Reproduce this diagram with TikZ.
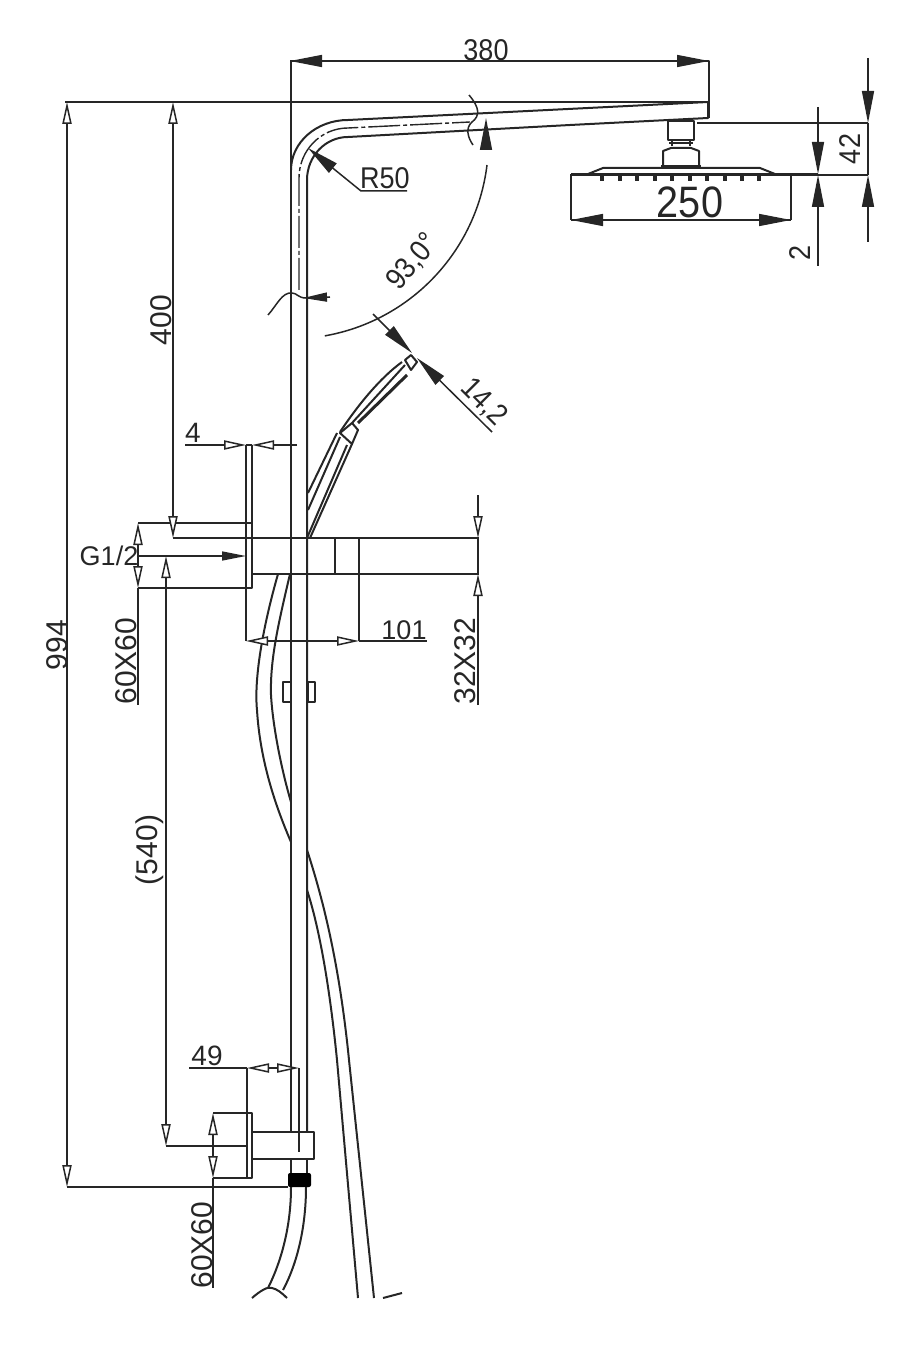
\documentclass[tikz,border=0pt]{standalone}
\usepackage{fontspec}
\setmainfont{Liberation Sans}
\newfontfamily\isofont[FakeStretch=0.9]{Liberation Sans}
\usetikzlibrary{arrows.meta}
\tikzset{
	x=0.5pt, % un pixel de la referencia
	y=-0.5pt,
	every path/.style={line join=round, color=black!85},
	part/.style={line width=1pt}, % contorno de las piezas
	dimline/.style={line width=.75pt}, % lineas de cota
	blk/.style={dimline, -{Triangle[length=16pt, width=6pt]}},
	blkshort/.style={dimline, -{Triangle[length=12pt, width=4.5pt]}},
	opn/.style={dimline, -{Triangle[open, length=11pt, width=4.6pt, fill=white]}},
	axisline/.style={line width=.7pt, dash pattern=on 16pt off 1.5pt on 2pt off 1.5pt},
	lbl/.style={text=black!85, inner sep=0pt, font=\fontsize{14}{14}\selectfont},
	lbliso/.style={lbl, font=\isofont\fontsize{15}{15}\selectfont},
	lblbig/.style={lbl, font=\fontsize{15}{15}\selectfont},
	vert/.style={lblbig, rotate=90}
}

\begin{document}
\begin{tikzpicture}
	\useasboundingbox (0,0) rectangle (918,1352);

	% barra principal
	\draw[part] (291,170) arc (180:270:57 and 50) -- (708,102) -- (708,118) -- (570,125) -- (348,137)
		arc (270:180:41 and 43) -- (307,1132);
	\draw[part] (291,170) -- (291,1132);
	\draw[part] (291,1159) -- (291,1173) (307,1159) -- (307,1173);
	\draw[axisline] (299,290) -- (299,178) arc (180:270:49 and 50) -- (470,122);
	\draw[part] (283,682) rectangle (291,702);
	\draw[part] (308,682) rectangle (315,702);

	% cortes
	\draw[dimline] (469,95) .. controls (480,108) and (480,116) .. (472,122) .. controls (465,128) and (468,138) .. (473,145);
	\draw[dimline] (268,315) .. controls (277,305) and (282,292) .. (292,293) .. controls (297,293) and (298,298) .. (306,298);

	% ducha de mano
	\draw[part] (405,360) -- (411,355) -- (417,362) -- (411,370) -- cycle;
	\draw[part] (402,362) .. controls (380,378) and (358,405) .. (340,432);
	\draw[part] (405,365) -- (352,423);
	\draw[line width=1.5pt] (407,375) -- (358,423);
	\draw[part] (340,433) -- (352,423) -- (358,430) -- (352,444) -- cycle;
	\draw[part] (337,433) -- (308,493) (340,437) -- (308,510) (352,444) -- (310,538) (347,445) -- (307,538);

	% soporte superior
	\draw[part] (173,538) -- (479,538) (252,574) -- (479,574);
	\draw[part] (138,523) -- (252,523) -- (252,588) -- (138,588);
	\draw[part] (252,445) -- (252,523);
	\draw[dimline] (246,445) -- (246,641);
	\draw[line width=1.4pt] (335,538) -- (335,574);
	\draw[part] (359,538) -- (359,641);

	% manguera
	\draw[part] (278,574) .. controls (262,630) and (254,680) .. (257,710) .. controls (260,760) and (275,805) .. (291,842);
	\draw[part] (290,574) .. controls (278,625) and (270,660) .. (271,695) .. controls (273,730) and (283,775) .. (291,802);
	\draw[part] (307,850) .. controls (325,905) and (340,970) .. (349,1060) -- (374,1298);
	\draw[part] (307,890) .. controls (320,930) and (330,990) .. (337,1060) -- (358,1298);
	\draw[part] (291,1187) .. controls (291,1225) and (282,1260) .. (268,1288);
	\draw[part] (306,1187) .. controls (306,1225) and (298,1262) .. (283,1290);
	\draw[part] (252,1298) .. controls (260,1291) and (268,1286) .. (272,1288) .. controls (277,1289) and (282,1293) .. (287,1298);
	\draw[part] (383,1298) -- (402,1293);

	% soporte inferior
	\draw[part] (213,1113) -- (252,1113) -- (252,1178) -- (213,1178);
	\draw[part] (247,1113) -- (247,1178);
	\draw[part] (252,1132) -- (314,1132) -- (314,1159) -- (252,1159);
	\draw[dimline] (247,1068) -- (247,1146);
	\draw[dimline] (299,1068) -- (299,1152);
	\fill[black, rounded corners=1pt] (288,1173) rectangle (311,1187);

	% rociador
	\draw[part] (668,121) rectangle (694,140);
	\draw[part] (672,140) -- (672,146) (690,140) -- (690,146);
	\draw[line width=1.4pt] (669,143) -- (693,143);
	\draw[part] (663,167) -- (663,151) -- (671,148) -- (691,148) -- (699,151) -- (699,167);
	\draw[line width=1.6pt] (661,167) -- (701,167);
	\draw[part] (588,174) -- (603,168) -- (760,168) -- (775,174);
	\foreach \nx in {602,620,637,655,672,690,707,725,742,759} {
		\draw[line width=1.8pt] (\nx,174) -- (\nx,181);
	}
	\draw[line width=1.5pt] (571,174.5) -- (818,174.5);
	\draw[dimline] (818,175) -- (868,175);
	\draw[dimline] (697,123) -- (868,123);
	\draw[dimline] (571,174) -- (571,220) (791,174) -- (791,220);

	% cotas negras
	\draw[dimline] (290,61) -- (709,61) -- (709,118);
	\draw[dimline] (291,61) -- (291,170);
	\draw[blk] (340,61) -- (290,61);
	\draw[blk] (660,61) -- (709,61);
	\draw[dimline] (571,220) -- (791,220);
	\draw[blk] (620,220) -- (571,220);
	\draw[blk] (740,220) -- (791,220);
	\draw[blk] (868,58) -- (868,123);
	\draw[dimline] (868,123) -- (868,175);
	\draw[blk] (868,242) -- (868,175);
	\draw[blk] (818,107) -- (818,174);
	\draw[blk] (818,266) -- (818,175);
	\draw[blk] (407,191) -- (361,191) -- (308,148);
	\draw[blk] (486,149) -- (486,118);
	\draw[dimline] (487,165) arc (7:80:198);
	\draw[blkshort] (330,297) -- (303,298);
	\draw[blk] (373,314) -- (412,353);
	\draw[blk] (492,432) -- (417,358);
	\draw[blkshort] (138,556) -- (246,556);

	% cotas abiertas
	\draw[dimline] (65,102) -- (708,102);
	\draw[dimline] (67,1187) -- (288,1187);
	\draw[opn] (67,640) -- (67,102);
	\draw[opn] (67,640) -- (67,1187);
	\draw[opn] (173,320) -- (173,102);
	\draw[opn] (173,320) -- (173,538);
	\draw[opn] (166,850) -- (166,556);
	\draw[opn] (166,850) -- (166,1146);
	\draw[dimline] (166,1146) -- (246,1146);
	\draw[opn] (185,445) -- (246,445);
	\draw[opn] (297,445) -- (252,445);
	\draw[dimline] (246,445) -- (252,445);
	\draw[opn] (300,641) -- (246,641);
	\draw[opn] (300,641) -- (359,641);
	\draw[dimline] (359,641) -- (427,641);
	\draw[opn] (478,495) -- (478,538);
	\draw[opn] (478,705) -- (478,574);
	\draw[dimline] (478,538) -- (478,574);
	\draw[dimline] (138,588) -- (138,705);
	\draw[opn] (138,556) -- (138,523);
	\draw[opn] (138,556) -- (138,588);
	\draw[opn] (272,1068) -- (247,1068);
	\draw[opn] (272,1068) -- (299,1068);
	\draw[dimline] (189,1068) -- (247,1068);
	\draw[dimline] (213,1178) -- (213,1288);
	\draw[opn] (213,1146) -- (213,1113);
	\draw[opn] (213,1146) -- (213,1178);

	% textos
	\node[lbliso] (lbl380) at (486,50) {380};
	\node[lbliso] (lblR) at (385,178) {R50};
	\node[lbliso, rotate=50] (lblangle) at (413,262) {93,0°};
	\node[lbliso, rotate=-45] (lbldiam) at (484,402) {14,2};
	\node[lbl, font=\isofont\fontsize{22}{22}\selectfont] (lbl250) at (690,202) {250};
	\node[lbliso, rotate=90] (lbl42) at (850,149) {42};
	\node[lbliso, rotate=90] (lbl2) at (800,253) {2};
	\node[vert] (lbl400) at (161,320) {400};
	\node[lbl] (lbl4) at (193,433) {4};
	\node[lbl, font=\fontsize{13.5}{13.5}\selectfont] (lblG) at (109,556) {G1/2};
	\node[lbl, font=\fontsize{13.5}{13.5}\selectfont] (lbl101) at (404,630) {101};
	\node[vert] (lblplate) at (126,661) {60X60};
	\node[vert] (lblbar) at (465,661) {32X32};
	\node[vert] (lbl994) at (57,645) {994};
	\node[vert] (lbl540) at (150,850) {(540)};
	\node[lbl] (lbl49) at (207,1056) {49};
	\node[vert] (lblplatelow) at (202,1245) {60X60};
\end{tikzpicture}
\end{document}
